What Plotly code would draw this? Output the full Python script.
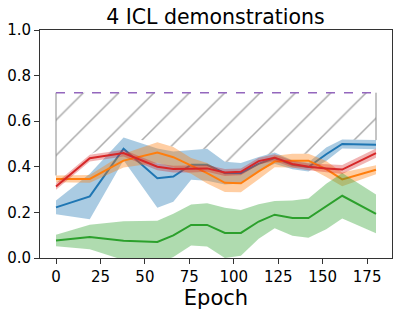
import numpy as np
import plotly.graph_objects as go

# ---- data ----
epochs = [0, 19, 38, 57, 66, 76, 85, 95, 104, 114, 123, 133, 142, 152, 161, 180]

blue_mean = [0.222, 0.270, 0.479, 0.350, 0.357, 0.409, 0.409, 0.372, 0.372, 0.413, 0.438, 0.409, 0.399, 0.455, 0.500, 0.497]
blue_std = [0.030, 0.100, 0.050, 0.130, 0.110, 0.066, 0.070, 0.050, 0.045, 0.030, 0.025, 0.020, 0.020, 0.030, 0.020, 0.020]

orange_mean = [0.347, 0.347, 0.427, 0.463, 0.442, 0.404, 0.372, 0.330, 0.328, 0.380, 0.423, 0.427, 0.427, 0.390, 0.345, 0.387]
orange_std = [0.015, 0.017, 0.030, 0.045, 0.045, 0.035, 0.045, 0.040, 0.040, 0.035, 0.025, 0.030, 0.030, 0.035, 0.030, 0.020]

green_mean = [0.077, 0.092, 0.076, 0.070, 0.099, 0.145, 0.145, 0.110, 0.110, 0.160, 0.190, 0.175, 0.175, 0.226, 0.273, 0.194]
green_std = [0.025, 0.054, 0.085, 0.093, 0.095, 0.090, 0.095, 0.110, 0.100, 0.076, 0.060, 0.077, 0.086, 0.100, 0.100, 0.085]

red_mean = [0.314, 0.438, 0.460, 0.400, 0.390, 0.390, 0.393, 0.375, 0.378, 0.425, 0.440, 0.412, 0.400, 0.393, 0.388, 0.460]
red_std = [0.015, 0.015, 0.015, 0.015, 0.015, 0.015, 0.015, 0.015, 0.015, 0.015, 0.015, 0.015, 0.015, 0.018, 0.020, 0.020]

oracle_value = 0.725

title_text = "4 ICL demonstrations"
x_label = "Epoch"
x_ticks = [0, 25, 50, 75, 100, 125, 150, 175]
y_ticks = [0.0, 0.2, 0.4, 0.6, 0.8, 1.0]

series = [
    (blue_mean, blue_std, "#1f77b4", "rgba(31,119,180,0.38)"),
    (orange_mean, orange_std, "#ff7f0e", "rgba(255,127,14,0.38)"),
    (green_mean, green_std, "#2ca02c", "rgba(44,160,44,0.38)"),
    (red_mean, red_std, "#d62728", "rgba(214,39,40,0.35)"),
]

x = np.array(epochs, dtype=float)
oracle = np.full_like(x, oracle_value)
uppers = np.array([np.array(m) + np.array(s) for m, s, _, _ in series])
hatch_bottom = uppers.max(axis=0)

fig = go.Figure()

# hatched gap region
fig.add_trace(go.Scatter(
    x=np.concatenate([x, x[::-1]]),
    y=np.concatenate([hatch_bottom, oracle[::-1]]),
    fill="toself",
    fillcolor="rgba(0,0,0,0)",
    fillpattern=dict(shape="/", fgcolor="#555555", bgcolor="rgba(0,0,0,0)", size=25, solidity=0.06),
    line=dict(width=0),
    mode="lines",
    hoverinfo="skip",
    showlegend=False,
))
# side edges of the hatched region
for xi, yb in ((x[0], hatch_bottom[0]), (x[-1], hatch_bottom[-1])):
    fig.add_trace(go.Scatter(
        x=[xi, xi], y=[yb, oracle_value], mode="lines",
        line=dict(color="#8a8a8a", width=1), showlegend=False, hoverinfo="skip",
    ))

for mean, std, col, fcol in series:
    m = np.array(mean)
    s = np.array(std)
    fig.add_trace(go.Scatter(
        x=x, y=m, mode="lines", line=dict(color=col, width=2), showlegend=False,
    ))
    fig.add_trace(go.Scatter(
        x=np.concatenate([x, x[::-1]]),
        y=np.concatenate([m + s, (m - s)[::-1]]),
        fill="toself", fillcolor=fcol, line=dict(width=0), mode="lines",
        showlegend=False, hoverinfo="skip",
    ))

fig.add_trace(go.Scatter(
    x=x, y=oracle, mode="lines",
    line=dict(color="#9467bd", width=1.6, dash="dash"), showlegend=False,
))

axis_common = dict(
    showline=True, linecolor="#333333", linewidth=1, mirror=True,
    ticks="outside", ticklen=5, tickwidth=1, tickcolor="#333333",
    showgrid=False, zeroline=False, automargin=False,
    tickfont=dict(family="DejaVu Sans", size=15, color="black"),
)

fig.update_layout(
    width=399, height=313,
    margin=dict(l=40, r=7, t=30, b=55),
    paper_bgcolor="white", plot_bgcolor="white",
    title=dict(text=title_text, x=0.54, xanchor="center", y=0.945, yanchor="middle",
               automargin=False,
               font=dict(family="DejaVu Sans", size=20.5, color="black")),
    xaxis=dict(range=[-9, 189], tickvals=x_ticks,
               title=dict(text=x_label, font=dict(family="DejaVu Sans", size=21, color="black"), standoff=2),
               **axis_common),
    yaxis=dict(range=[0, 1], tickvals=y_ticks, tickformat=".1f", **axis_common),
)

fig.write_html("out.html", config={"displayModeBar": False},
               post_script="document.body.style.margin='0';document.body.style.padding='0';")
